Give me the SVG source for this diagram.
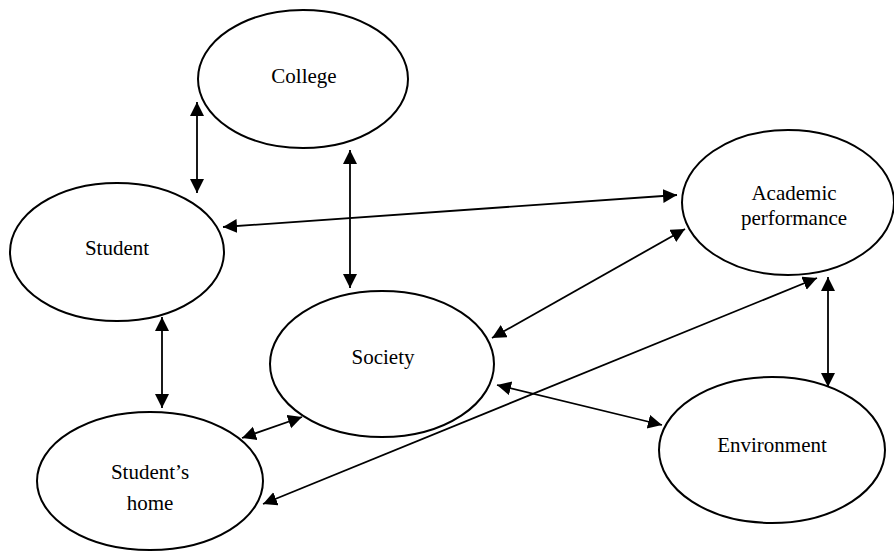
<svg xmlns="http://www.w3.org/2000/svg" width="894" height="555" viewBox="0 0 894 555">
<style>
.node ellipse{fill:#fff;stroke:#000;stroke-width:2}
.node text{font-family:"Liberation Serif","Times New Roman",serif;font-size:21px;fill:#000;text-anchor:middle}
#connectors line{stroke:#000;stroke-width:1.8;marker-start:url(#ah);marker-end:url(#ah)}
</style>
<defs>
<marker id="ah" markerUnits="userSpaceOnUse" markerWidth="16" markerHeight="16" refX="14" refY="7" orient="auto-start-reverse">
<path d="M0,0 L14,7 L0,14 z" fill="#000"/>
</marker>
</defs>
<rect width="894" height="555" fill="#fff"/>
<g id="college" class="node"><ellipse cx="303" cy="79" rx="105" ry="69"/><text x="304" y="83">College</text></g>
<g id="student" class="node"><ellipse cx="117" cy="252" rx="107" ry="69"/><text x="117" y="255">Student</text></g>
<g id="academic" class="node"><ellipse cx="788" cy="202.5" rx="106" ry="72.5"/><text x="794" y="200">Academic</text><text x="794" y="225">performance</text></g>
<g id="society" class="node"><ellipse cx="382" cy="364" rx="112" ry="73"/><text x="383" y="364">Society</text></g>
<g id="home" class="node"><ellipse cx="150" cy="481" rx="113" ry="69"/><text x="150" y="479">Student’s</text><text x="150" y="510">home</text></g>
<g id="environment" class="node"><ellipse cx="772" cy="450" rx="113" ry="73"/><text x="772" y="452">Environment</text></g>
<g id="connectors">
<line x1="197" y1="102" x2="197" y2="193"/>
<line x1="350" y1="150" x2="350" y2="288"/>
<line x1="223" y1="227" x2="677" y2="195"/>
<line x1="492" y1="338" x2="685" y2="229"/>
<line x1="497" y1="385" x2="662" y2="425"/>
<line x1="828" y1="277" x2="828" y2="387"/>
<line x1="162" y1="317" x2="162" y2="408"/>
<line x1="242" y1="438" x2="302" y2="417"/>
<line x1="817" y1="278" x2="263" y2="504"/>
</g>
</svg>
